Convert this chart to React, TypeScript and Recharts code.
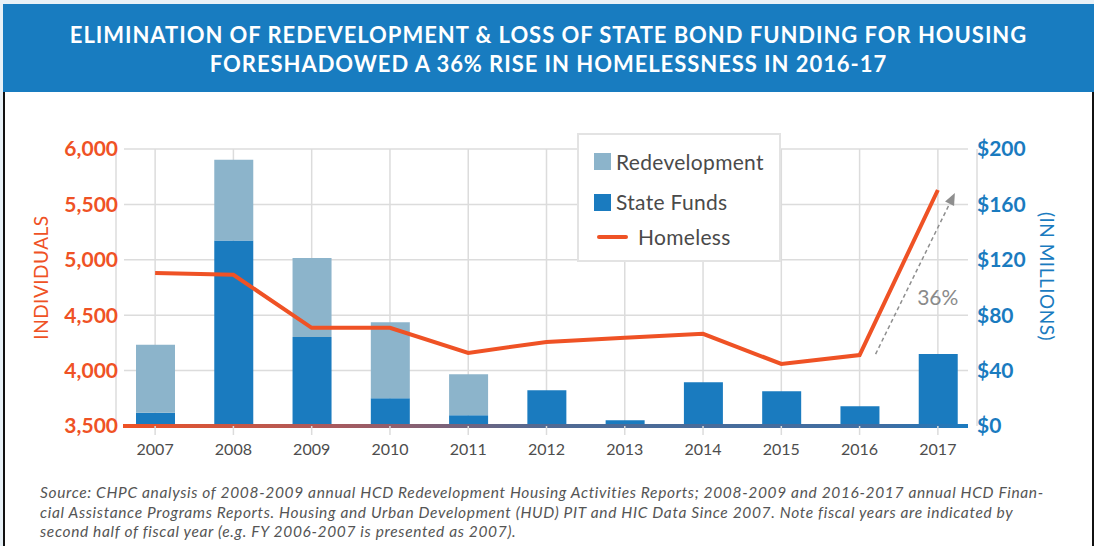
import React from 'react'
import {
  ComposedChart,
  Bar,
  Line,
  XAxis,
  YAxis,
  CartesianGrid,
  Legend,
  ReferenceLine,
} from 'recharts'

// fiscal years (second half of FY)
const years = ['2007', '2008', '2009', '2010', '2011', '2012', '2013', '2014', '2015', '2016', '2017']
// $ millions
const stateFunds = [9.6, 134, 64.2, 20, 7.7, 25.8, 4.1, 31.6, 25.1, 14.3, 51.9]
const redevelopment = [49, 58.3, 57.1, 55, 29.7, 0, 0, 0, 0, 0, 0]
// individuals
const homeless = [4880, 4865, 4386, 4386, 4160, 4259, 4296, 4332, 4060, 4140, 5630]

const leftTicks = [3500, 4000, 4500, 5000, 5500, 6000]
const rightTicks = [0, 40, 80, 120, 160, 200]

const data = years.map((year, i) => ({
  year,
  stateFunds: stateFunds[i],
  redevelopment: redevelopment[i],
  homeless: homeless[i],
}))

const FONT = 'Lato, "Open Sans", sans-serif'
const ORANGE = '#ef5225'
const BLUE = '#1a7bbf'
const LIGHT_BLUE = '#8cb4cb'
const GRID = '#dcdcdc'

function LegendBox() {
  const text: React.CSSProperties = {
    position: 'absolute',
    fontFamily: FONT,
    fontSize: 21,
    letterSpacing: 0.3,
    lineHeight: '24px',
    color: '#4a4a4a',
    whiteSpace: 'nowrap',
  }
  return (
    <div
      style={{
        position: 'relative',
        boxSizing: 'border-box',
        width: 204,
        height: 129,
        border: '2px solid #e3e3e3',
        background: '#fff',
      }}
    >
      <div style={{ position: 'absolute', left: 15, top: 18, width: 17, height: 17, background: LIGHT_BLUE }} />
      <span style={{ ...text, left: 37, top: 15 }}>Redevelopment</span>
      <div style={{ position: 'absolute', left: 15, top: 59, width: 17, height: 17, background: BLUE }} />
      <span style={{ ...text, left: 37, top: 55 }}>State Funds</span>
      <div style={{ position: 'absolute', left: 18, top: 100, width: 31, height: 4, borderRadius: 2, background: ORANGE }} />
      <span style={{ ...text, left: 59, top: 90 }}>Homeless</span>
    </div>
  )
}

function ArrowShape(props: any) {
  const { x1, y1, x2, y2 } = props
  if (x1 == null) return null
  const sx = x1 + 16
  const sy = y1 - 1
  const tx = x2 + 17
  const ty = y2 + 3
  const dx = tx - sx
  const dy = ty - sy
  const len = Math.sqrt(dx * dx + dy * dy)
  const ux = dx / len
  const uy = dy / len
  const head = 12
  const bx = tx - ux * head
  const by = ty - uy * head
  const px = -uy * 5
  const py = ux * 5
  return (
    <g>
      <line x1={sx} y1={sy} x2={bx} y2={by} stroke="#8e8e8e" strokeWidth={1.5} strokeDasharray="4 3" />
      <polygon points={`${tx},${ty} ${bx + px},${by + py} ${bx - px},${by - py}`} fill="#8e8e8e" />
      <text
        x={(x1 + x2) / 2 + 39}
        y={(y1 + y2) / 2 + 24}
        textAnchor="middle"
        dominantBaseline="central"
        fill="#8a8a8a"
        fontFamily={FONT}
        fontSize={21}
      >
        36%
      </text>
    </g>
  )
}

function BaseLine(props: any) {
  const { x1, y1, x2 } = props
  if (x1 == null) return null
  return <rect x={x1 + 7} y={y1 - 2} width={x2 - x1 - 16} height={4} fill="url(#baseGrad)" />
}

export default function App() {
  return (
    <div style={{ position: 'absolute', left: 0, top: 0, width: 1094, height: 546, background: '#e8f1f7', overflow: 'hidden' }}>
      <div
        style={{
          position: 'absolute',
          left: 3,
          top: 92,
          width: 1087,
          height: 454,
          background: '#fff',
          borderLeft: '2px solid #111',
          borderRight: '2px solid #111',
        }}
      />
      <div
        style={{
          position: 'absolute',
          left: 3,
          top: 4,
          width: 1091,
          height: 88,
          background: '#187cc0',
          color: '#fff',
          fontFamily: FONT,
          fontWeight: 700,
          fontSize: 22,
          letterSpacing: 0.95,
          lineHeight: '29px',
          textAlign: 'center',
          boxSizing: 'border-box',
          paddingTop: 16,
          whiteSpace: 'nowrap',
        }}
      >
        ELIMINATION OF REDEVELOPMENT &amp; LOSS OF STATE BOND FUNDING FOR HOUSING
        <br />
        FORESHADOWED A 36% RISE IN HOMELESSNESS IN 2016-17
      </div>

      <div style={{ position: 'absolute', left: 0, top: 0 }}>
        <ComposedChart width={1094} height={546} data={data} margin={{ top: 149, right: 0, bottom: 90, left: 0 }}>
          <defs>
            <linearGradient id="baseGrad" x1="0" y1="0" x2="1" y2="0">
              <stop offset="0" stopColor="#ef5225" />
              <stop offset="0.25" stopColor="#a85a5e" />
              <stop offset="0.5" stopColor="#516a93" />
              <stop offset="0.9" stopColor="#3f6ea3" />
              <stop offset="1" stopColor="#1b7bc0" />
            </linearGradient>
          </defs>
          <CartesianGrid
            yAxisId="left"
            stroke={GRID}
            strokeWidth={1.5}
            horizontal={(p: any) => (
              <line key={p.key} x1={p.x1 + 8} x2={p.x2 - 9} y1={p.y1} y2={p.y2} stroke={GRID} strokeWidth={1.5} />
            )}
          />
          <XAxis
            dataKey="year"
            height={30}
            axisLine={false}
            tickSize={9}
            tickMargin={9}
            tickLine={{ stroke: GRID, strokeWidth: 1.5 }}
            tick={{ fill: '#4d4d4d', fontSize: 16, fontFamily: FONT }}
          />
          <YAxis
            yAxisId="left"
            domain={[3500, 6000]}
            ticks={leftTicks}
            width={116}
            axisLine={false}
            tickLine={false}
            tickSize={0}
            tickMargin={0}
            tickFormatter={(v: number) => v.toLocaleString('en-US')}
            tick={{ fill: ORANGE, fontSize: 21, fontWeight: 700, fontFamily: FONT, dx: 2 }}
            label={(p: any) => {
              const vb = p.viewBox
              const cx = vb.x + 40
              const cy = vb.y + vb.height / 2 - 10
              return (
                <text
                  x={cx}
                  y={cy}
                  transform={`rotate(-90 ${cx} ${cy})`}
                  textAnchor="middle"
                  dominantBaseline="central"
                  fill={ORANGE}
                  fontFamily={FONT}
                  fontSize={19}
                  letterSpacing={0.5}
                >
                  INDIVIDUALS
                </text>
              )
            }}
          />
          <YAxis
            yAxisId="right"
            orientation="right"
            domain={[0, 200]}
            ticks={rightTicks}
            width={117}
            axisLine={false}
            tickLine={false}
            tickSize={0}
            tickMargin={0}
            tickFormatter={(v: number) => `$${v}`}
            tick={{ fill: BLUE, fontSize: 21, fontWeight: 700, fontFamily: FONT }}
            label={(p: any) => {
              const vb = p.viewBox
              const cx = vb.x + 70
              const cy = vb.y + vb.height / 2 - 11
              return (
                <text
                  x={cx}
                  y={cy}
                  transform={`rotate(90 ${cx} ${cy})`}
                  textAnchor="middle"
                  dominantBaseline="central"
                  fill={BLUE}
                  fontFamily={FONT}
                  fontSize={19}
                  letterSpacing={0.5}
                >
                  (IN MILLIONS)
                </text>
              )
            }}
          />
          <Bar yAxisId="right" dataKey="stateFunds" stackId="funds" fill={BLUE} barSize={39} isAnimationActive={false} />
          <Bar yAxisId="right" dataKey="redevelopment" stackId="funds" fill={LIGHT_BLUE} barSize={39} isAnimationActive={false} />
          <ReferenceLine yAxisId="left" y={3500} shape={BaseLine} />
          <Line
            yAxisId="left"
            type="linear"
            dataKey="homeless"
            stroke={ORANGE}
            strokeWidth={4}
            dot={false}
            activeDot={false}
            isAnimationActive={false}
          />
          <ReferenceLine
            yAxisId="left"
            segment={[
              { x: years[9], y: homeless[9] },
              { x: years[10], y: homeless[10] },
            ]}
            shape={ArrowShape}
          />
          <Legend
            layout="vertical"
            align="center"
            verticalAlign="middle"
            wrapperStyle={{ left: 577, top: 133, width: 204, height: 129 }}
            content={() => <LegendBox />}
          />
        </ComposedChart>
      </div>

      <div
        style={{
          position: 'absolute',
          left: 40,
          top: 483,
          fontFamily: FONT,
          fontStyle: 'italic',
          fontSize: 15.5,
          letterSpacing: 0.65,
          lineHeight: '19.5px',
          color: '#555',
          whiteSpace: 'nowrap',
        }}
      >
        Source: CHPC analysis of 2008-2009 annual HCD Redevelopment Housing Activities Reports; 2008-2009 and 2016-2017 annual HCD Finan-
        <br />
        cial Assistance Programs Reports. Housing and Urban Development (HUD) PIT and HIC Data Since 2007. Note fiscal years are indicated by
        <br />
        second half of fiscal year (e.g. FY 2006-2007 is presented as 2007).
      </div>
    </div>
  )
}
